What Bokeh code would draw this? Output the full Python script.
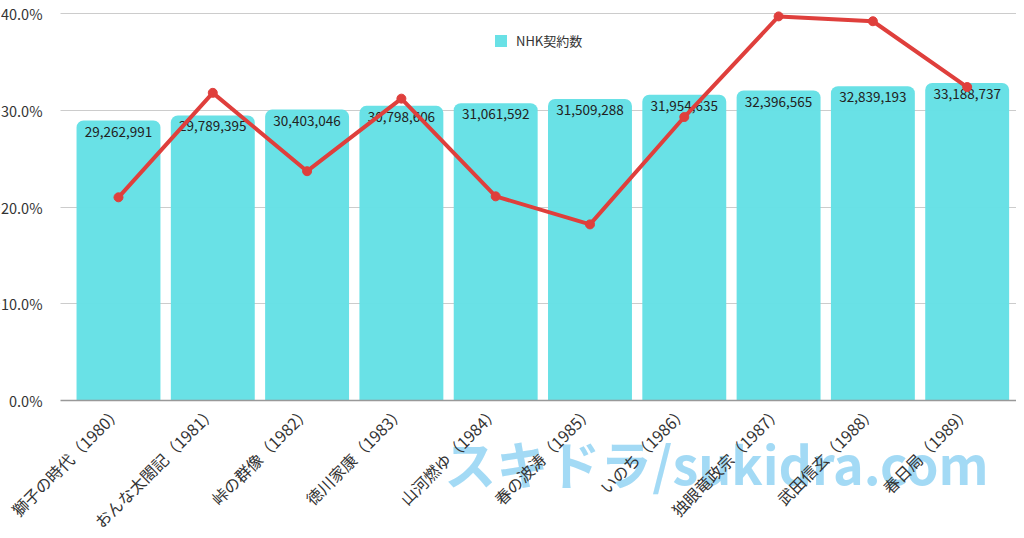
from bokeh.plotting import figure
from bokeh.models import (Range1d, FixedTicker, ColumnDataSource, BoxAnnotation,
                          NumeralTickFormatter, Label, Legend, LegendItem)
from bokeh.core.properties import value
from bokeh.embed import file_html
from bokeh.resources import INLINE

titles = ["獅子の時代（1980）", "おんな太閤記（1981）", "峠の群像（1982）", "徳川家康（1983）",
          "山河燃ゆ（1984）", "春の波涛（1985）", "いのち（1986）", "独眼竜政宗（1987）",
          "武田信玄（1988）", "春日局（1989）"]
contracts = [29262991, 29789395, 30403046, 30798606, 31061592,
             31509288, 31954635, 32396565, 32839193, 33188737]
ratings = [0.210, 0.318, 0.237, 0.312, 0.211, 0.182, 0.293, 0.397, 0.392, 0.324]
pct_ticks = [0, 0.1, 0.2, 0.3, 0.4]

xs = list(range(len(titles)))
FONT = "Noto Sans CJK JP"

src = ColumnDataSource(dict(
    x=xs, c=contracts, r=ratings,
    lbl=[f"{v:,}" for v in contracts],
))

XMIN, XAX, XMAX = -1.2513, -0.615, 9.523
YMIN, YMAX = -0.13437, 0.41344
CNT_MAX = 40450000
p = figure(width=1016, height=530, output_backend="svg", toolbar_location=None,
           x_range=Range1d(XMIN, XMAX), y_range=Range1d(YMIN, YMAX),
           min_border_left=0, min_border_right=0, min_border_top=0,
           min_border_bottom=0)
p.title.visible = False
p.outline_line_color = None
p.background_fill_color = "white"

p.extra_y_ranges = {"cnt": Range1d(YMIN / 0.40 * CNT_MAX, YMAX / 0.40 * CNT_MAX)}

bars = p.vbar(x="x", top="c", bottom=0, width=0.89, source=src, y_range_name="cnt",
              fill_color="#64E0E5", fill_alpha=0.97, line_color=None,
              border_radius=[7, 7, 0, 0])

p.text(x="x", y="c", text="lbl", source=src, y_range_name="cnt",
       text_align="center", text_baseline="top", y_offset=6,
       text_font=value(FONT), text_font_size="13.5px", text_color="#222222")

p.line(x="x", y="r", source=src, line_color="#DF3F3C", line_width=4)
p.scatter(x="x", y="r", source=src, size=9, fill_color="#DF3F3C", line_color="#DF3F3C")

# axes
ya = p.yaxis[0]
ya.fixed_location = XAX
ya.ticker = FixedTicker(ticks=pct_ticks)
ya.formatter = NumeralTickFormatter(format="0.0%")
ya.axis_line_color = None
ya.major_tick_line_color = None
ya.minor_tick_line_color = None
ya.major_label_text_font = FONT
ya.major_label_text_font_size = "14.5px"
ya.major_label_text_color = "#333333"
ya.major_label_standoff = 12

xa = p.xaxis[0]
xa.fixed_location = 0
xa.bounds = (XAX, XMAX)
xa.ticker = FixedTicker(ticks=xs)
xa.major_label_overrides = {i: t for i, t in enumerate(titles)}
xa.major_label_orientation = 0.785398
xa.axis_line_color = "#999999"
xa.axis_line_width = 1.5
xa.major_tick_line_color = None
xa.minor_tick_line_color = None
xa.major_label_text_font = FONT
xa.major_label_text_font_size = "16px"
xa.major_label_text_color = "#333333"
xa.major_label_standoff = 2

p.xgrid.grid_line_color = None
p.ygrid.grid_line_color = "#cccccc"
p.ygrid.ticker = FixedTicker(ticks=pct_ticks[1:])

# keep gridlines from running under the y tick labels
mask = BoxAnnotation(right=XAX, bottom=0.05, fill_color="white", fill_alpha=1,
                     line_color=None, level="glyph")
p.add_layout(mask)

legend = Legend(items=[LegendItem(label="NHK契約数", renderers=[bars])],
                location="top_center", orientation="horizontal",
                label_text_font=FONT, label_text_font_size="13px",
                label_text_color="#333333", border_line_color=None,
                background_fill_alpha=0, glyph_width=15, glyph_height=15,
                margin=0, padding=0, label_standoff=8)
legend.location = (493, 480)
p.add_layout(legend)

wm = Label(x=6.341, y=-0.0641,
           text="スキドラ/sukidra.com", text_font=FONT, text_font_size="52px",
           text_font_style="bold", text_color="#93D4F3", text_alpha=0.85,
           text_align="center", text_baseline="middle", level="glyph")
p.add_layout(wm)

open("out.html", "w").write(file_html(p, INLINE))
